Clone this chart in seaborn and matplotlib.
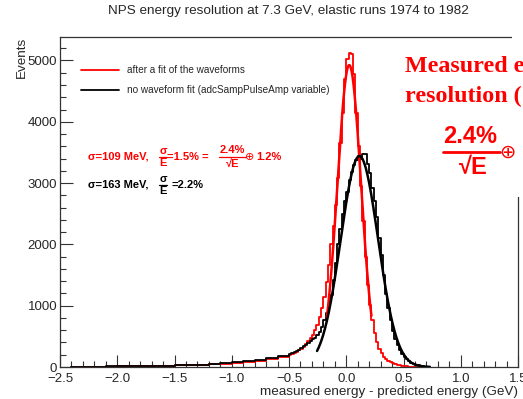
import numpy as np
import pandas as pd
import matplotlib
matplotlib.use("Agg")
import matplotlib.pyplot as plt
from matplotlib.lines import Line2D
from matplotlib.patches import Rectangle
from matplotlib.ticker import MultipleLocator
import seaborn as sns

# ---------------- data ----------------
# coarse tail bins (0.1 GeV wide, height = counts per 0.02 GeV) from -2.4 to -0.5
tail_edges = [-2.4, -2.3, -2.2, -2.1, -2.0, -1.9, -1.8, -1.7, -1.6, -1.5, -1.4,
              -1.3, -1.2, -1.1, -1.0, -0.9, -0.8, -0.7, -0.6, -0.5]
red_tail = [4, 5, 6, 8, 10, 12, 14, 17, 22, 26, 30, 36, 44, 55, 68, 88, 105, 130, 170]
black_tail = [5, 6, 7, 9, 11, 13, 16, 19, 24, 29, 34, 40, 49, 60, 75, 96, 115, 142, 185]

# fine core bins (0.02 GeV) from -0.5 to 0.72
red_core = [200, 212, 228, 250, 272, 300, 325, 368, 420, 470,
            530, 600, 690, 820, 960, 1150, 1390, 1660, 2000, 2300,
            2650, 3080, 3650, 4150, 4700,
            5020, 5120, 5110, 4780, 4150, 3600, 2950, 2380, 1800, 1330,
            1010, 760, 560, 410, 300, 225, 165, 125, 98, 80,
            62, 47, 36, 28, 21, 15, 10, 6, 4, 2,
            1, 0, 0, 0, 0, 0]
black_core = [215, 228, 245, 265, 285, 310, 335, 360, 390, 420,
              450, 480, 520, 570, 650, 760, 880, 1010, 1180, 1420,
              1700, 2010, 2250, 2500, 2700,
              2860, 3050, 3180, 3290, 3370, 3450, 3400, 3470, 3480, 3310,
              3170, 2920, 2700, 2440, 2100, 1820, 1500, 1190, 960, 760,
              590, 460, 360, 285, 220, 170, 130, 95, 70, 52,
              38, 26, 17, 10, 6, 3]
core_start, core_width = -0.5, 0.02

# Gaussian fit parameters (amplitude, mean, sigma, fit range)
red_fit = dict(amp=4925, mean=0.026, sigma=0.103, lo=-0.17, hi=0.22)
black_fit = dict(amp=3440, mean=0.115, sigma=0.163, lo=-0.255, hi=0.73)

title = "NPS energy resolution at 7.3 GeV, elastic runs 1974 to 1982"
legend_labels = ["after a fit of the waveforms", "no waveform fit (adcSampPulseAmp variable)"]

# ---------------- build tables ----------------
core_edges = core_start + core_width * np.arange(len(red_core) + 1)
edges = [float(v) for v in np.concatenate([np.array(tail_edges[:-1]), core_edges])]
centers = [0.5 * (a + b) for a, b in zip(edges[:-1], edges[1:])]
df_fit = pd.DataFrame({"E": centers, "N": [float(v) for v in red_tail + red_core]})
df_nofit = pd.DataFrame({"E": centers, "N": [float(v) for v in black_tail + black_core]})

def gauss_curve(p):
    x = np.linspace(p["lo"], p["hi"], 300)
    return x, p["amp"] * np.exp(-0.5 * ((x - p["mean"]) / p["sigma"]) ** 2)

# ---------------- figure ----------------
sns.set_style("ticks")
plt.rcParams["font.family"] = ["Liberation Sans", "DejaVu Sans"]
W, H = 523, 399
fig = plt.figure(figsize=(W / 100, H / 100), dpi=100)
fig.patch.set_facecolor("white")
ax = fig.add_axes([60 / W, 32 / H, 458 / W, 330 / H])

def fx(px):
    return px / W

def fy(py):
    return 1 - py / H

sns.histplot(data=df_fit, x="E", weights="N", bins=edges,
             element="step", fill=False, color="red", lw=1.3, ax=ax)
sns.histplot(data=df_nofit, x="E", weights="N", bins=edges,
             element="step", fill=False, color="black", lw=1.3, ax=ax)
xr, yr = gauss_curve(red_fit)
xb, yb = gauss_curve(black_fit)
sns.lineplot(x=xr, y=yr, color="red", lw=1.8, ax=ax, sort=False)
sns.lineplot(x=xb, y=yb, color="black", lw=1.8, ax=ax, sort=False)

ax.set_xlim(-2.5, 1.5)
ax.set_ylim(0, 5383)
ax.xaxis.set_major_locator(MultipleLocator(0.5))
ax.xaxis.set_minor_locator(MultipleLocator(0.1))
ax.yaxis.set_major_locator(MultipleLocator(1000))
ax.yaxis.set_minor_locator(MultipleLocator(200))
ax.tick_params(which="both", direction="in", top=False, right=False, labelsize=9.5,
               color="#333333", width=0.8)
ax.tick_params(axis="x", pad=4)
ax.tick_params(axis="y", pad=2)
ax.tick_params(which="major", length=9)
ax.tick_params(which="minor", length=4.5)
for s in ax.spines.values():
    s.set_linewidth(0.9)
    s.set_color("#333333")

ax.set_xlabel("measured energy - predicted energy (GeV)", loc="right", fontsize=9.7, labelpad=1)
ax.set_ylabel("Events", loc="top", fontsize=9.7, labelpad=0)

fig.text(fx(288), fy(11), title, ha="center", va="center", fontsize=9.7)

handles = [Line2D([], [], color="red", lw=1.3), Line2D([], [], color="black", lw=1.3)]
ax.legend(handles, legend_labels, loc="upper left", bbox_to_anchor=(fx(76), fy(60)),
          bbox_transform=fig.transFigure, frameon=False, fontsize=7.2,
          handlelength=3.8, handletextpad=0.8, labelspacing=1.0, borderpad=0)

# white patch of the pasted overlay (hides the frame corner)
fig.add_artist(Rectangle((fx(512), fy(197)), fx(523) - fx(512), fy(30) - fy(197),
                         transform=fig.transFigure, facecolor="white", edgecolor="none",
                         zorder=5))

# --- resolution annotations ---
bold = dict(fontweight="bold", fontsize=8)
red = "#ff0000"
fig.text(fx(88), fy(157), "σ=109 MeV,", color=red, ha="left", va="center", **bold)
fig.text(fx(163), fy(150.5), "σ", color=red, ha="center", va="center", **bold)
fig.add_artist(Line2D([fx(159), fx(167)], [fy(157), fy(157)], color=red, lw=0.9))
fig.text(fx(163), fy(163.5), "E", color=red, ha="center", va="center", **bold)
fig.text(fx(167), fy(157), "=1.5% =", color=red, ha="left", va="center", **bold)
fig.text(fx(232), fy(150), "2.4%", color=red, ha="center", va="center", **bold)
fig.add_artist(Line2D([fx(219), fx(246)], [fy(157), fy(157)], color=red, lw=0.9))
fig.text(fx(233), fy(164), "√E", color=red, ha="center", va="center", **bold)
fig.text(fx(245), fy(157), "⊕", color=red, ha="left", va="center", fontsize=8,
         family=["DejaVu Sans"])
fig.text(fx(256), fy(157), "1.2%", color=red, ha="left", va="center", **bold)

fig.text(fx(88), fy(185), "σ=163 MeV,", color="black", ha="left", va="center", **bold)
fig.text(fx(163), fy(178.5), "σ", color="black", ha="center", va="center", **bold)
fig.add_artist(Line2D([fx(159), fx(167)], [fy(185), fy(185)], color="black", lw=0.9))
fig.text(fx(163), fy(191.5), "E", color="black", ha="center", va="center", **bold)
fig.text(fx(172), fy(185), "=2.2%", color="black", ha="left", va="center", **bold)

# --- big overlay text (cut at the right edge) ---
fig.text(fx(405), fy(72), "Measured energy", color=red, ha="left", va="baseline",
         fontsize=17.3, fontweight="bold", family=["Liberation Serif"], zorder=6)
fig.text(fx(405), fy(102), "resolution (", color=red, ha="left", va="baseline",
         fontsize=17.3, fontweight="bold", family=["Liberation Serif"], zorder=6)
fig.text(fx(470.5), fy(137), "2.4%", color=red, ha="center", va="center",
         fontsize=17, fontweight="bold", zorder=6)
fig.add_artist(Line2D([fx(443), fx(500)], [fy(152), fy(152)], color=red, lw=2, zorder=6))
fig.text(fx(473), fy(168), "√E", color=red, ha="center", va="center",
         fontsize=17, fontweight="bold", zorder=6)
fig.text(fx(499), fy(152), "⊕", color=red, ha="left", va="center",
         fontsize=14, family=["DejaVu Sans"], zorder=6)

fig.savefig("out.png", dpi=100, facecolor="white")
